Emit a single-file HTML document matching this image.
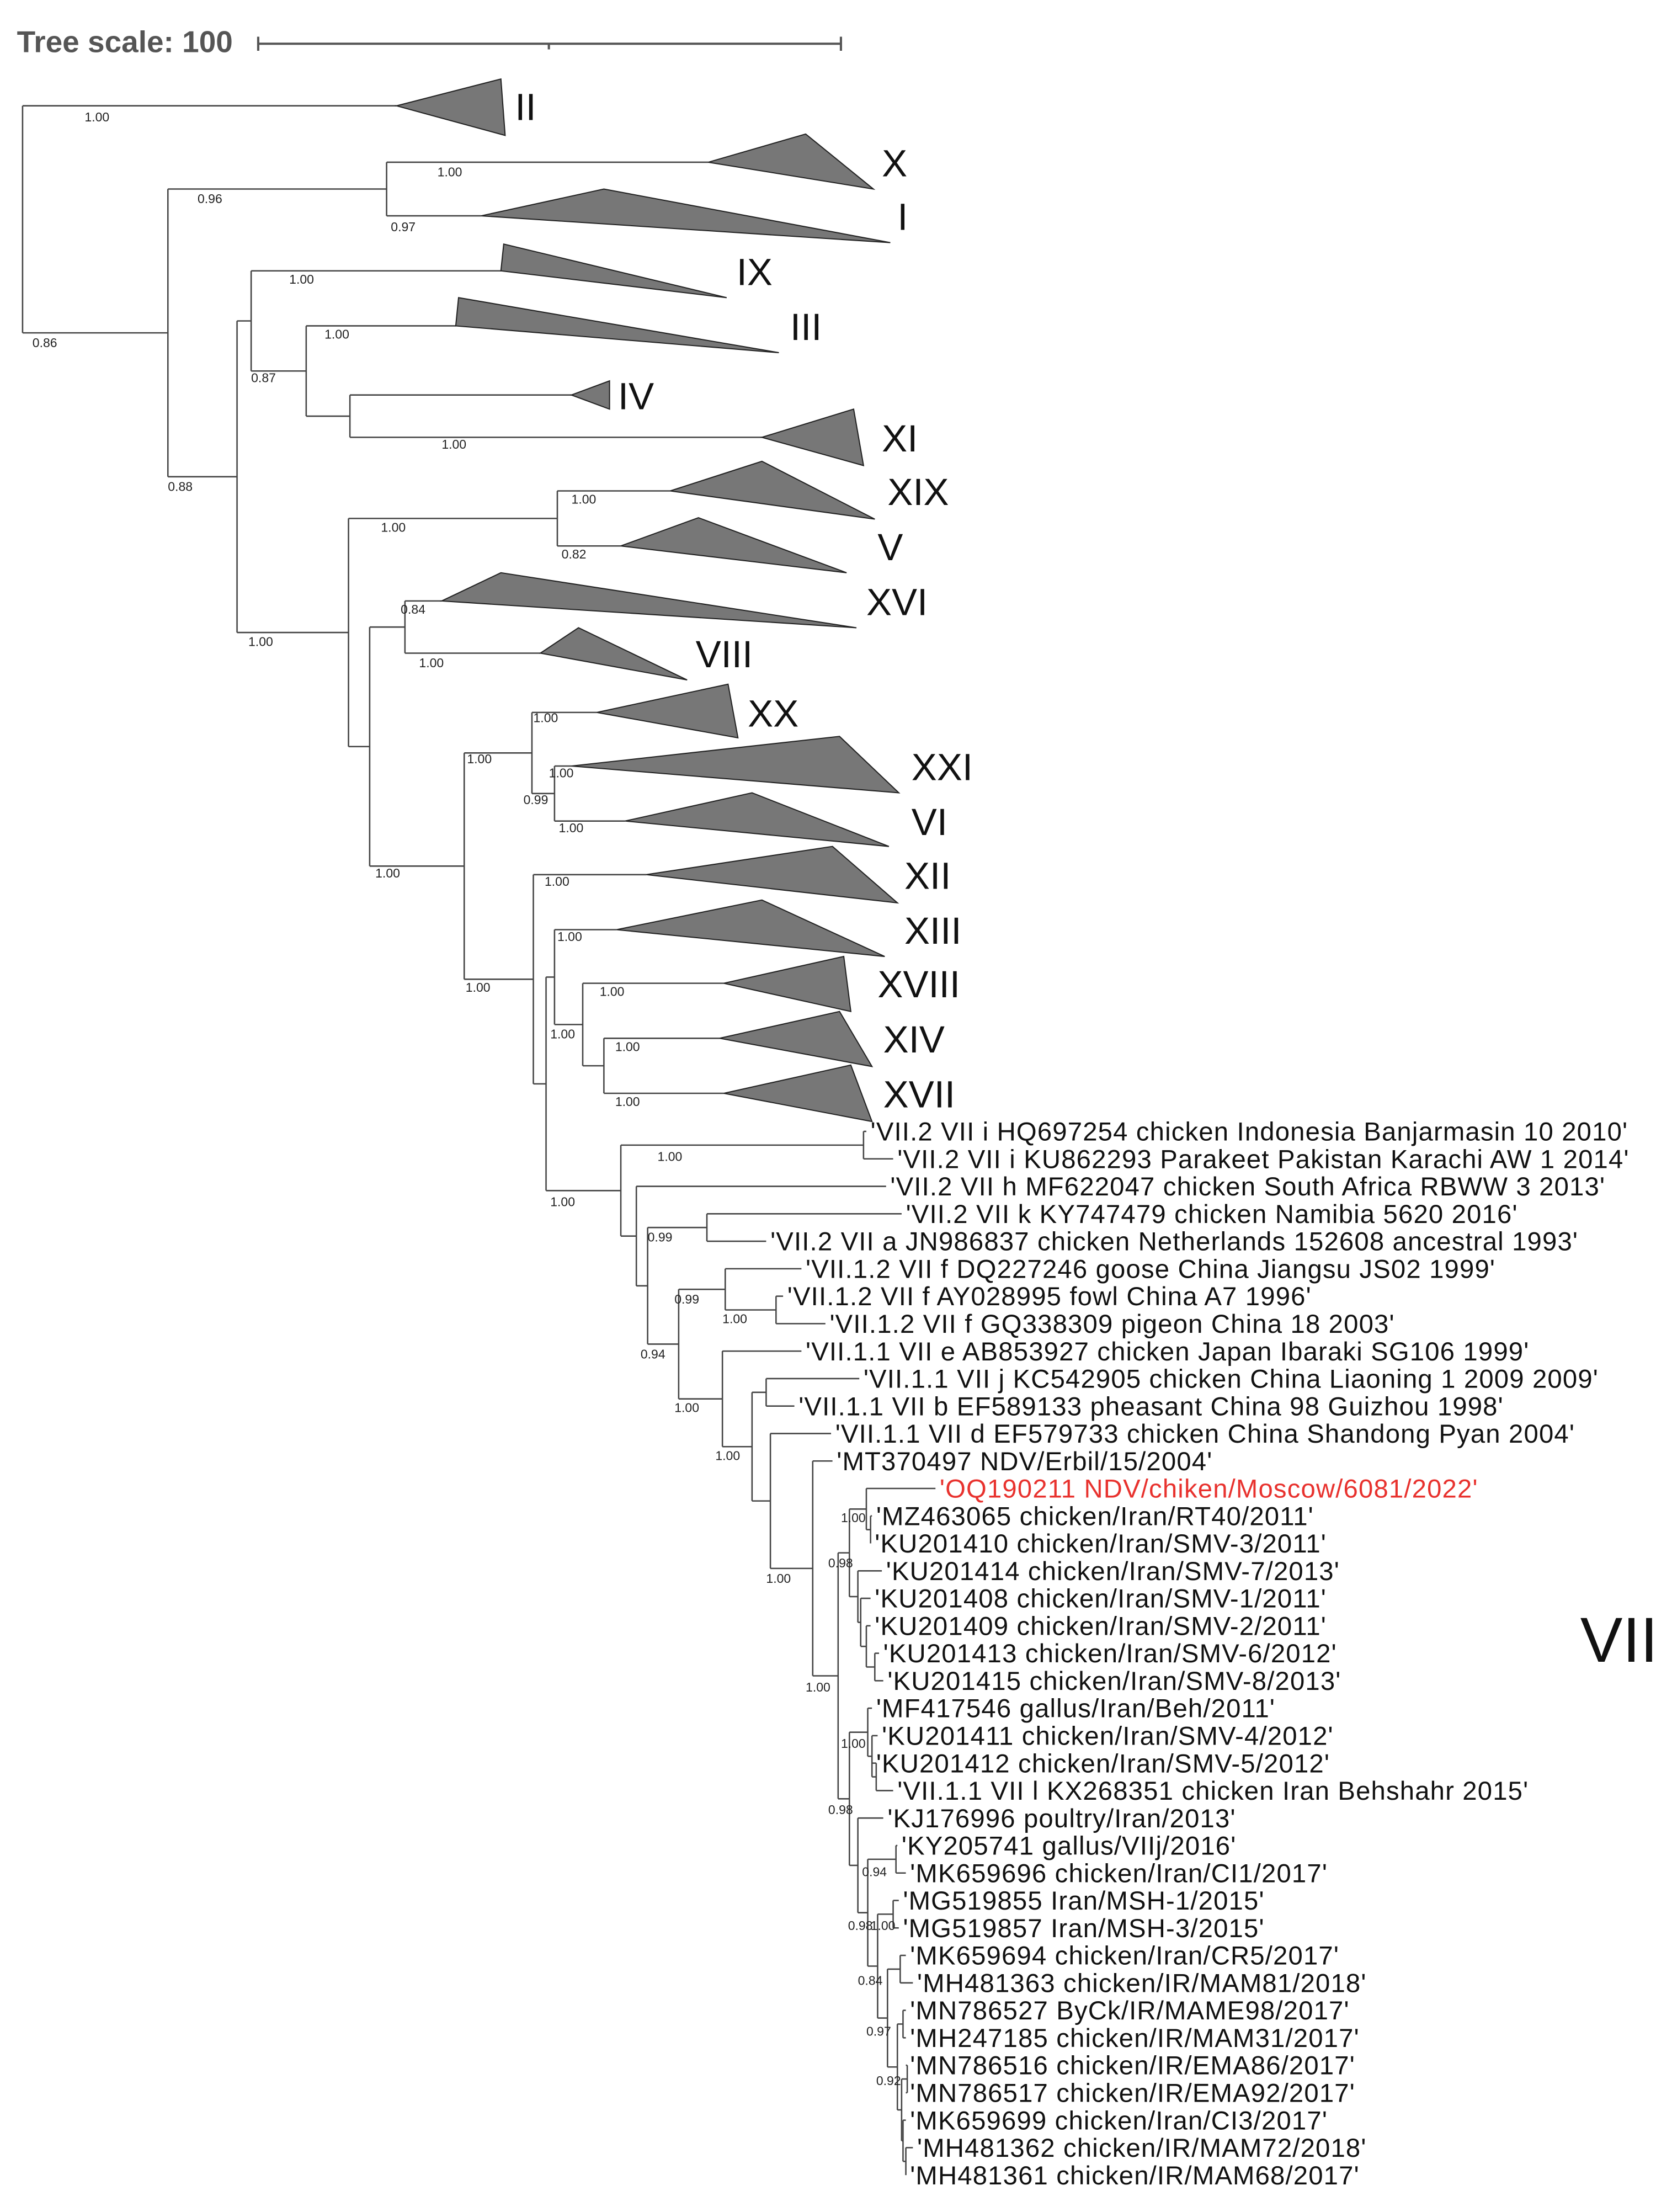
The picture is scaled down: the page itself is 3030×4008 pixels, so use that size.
<!DOCTYPE html>
<html><head><meta charset="utf-8"><style>
html,body{margin:0;padding:0;background:#fff}
svg{display:block}
</style></head><body>
<svg id="tree" xmlns="http://www.w3.org/2000/svg" width="3030" height="4008" viewBox="0 0 1185 1568" preserveAspectRatio="none" font-family="'Liberation Sans', sans-serif">
<g>
<text x="12" y="37" font-size="21.5" font-weight="bold" fill="#555">Tree scale: 100</text>
<path d="M183,31H596M183,26V36M596,26V36M389,31V35" stroke="#555" stroke-width="1.6" fill="none"/>
</g>
<g id="edges"></g>
<g id="clades"></g>
<g id="supports"></g>
<g id="leaves"></g>
<text x="1120" y="1178" font-size="45" fill="#111">VII</text>
</svg>
<script>
const leafNames = ["'VII.2 VII i HQ697254 chicken Indonesia Banjarmasin 10 2010'","'VII.2 VII i KU862293 Parakeet Pakistan Karachi AW 1 2014'","'VII.2 VII h MF622047 chicken South Africa RBWW 3 2013'","'VII.2 VII k KY747479 chicken Namibia 5620 2016'","'VII.2 VII a JN986837 chicken Netherlands 152608 ancestral 1993'","'VII.1.2 VII f DQ227246 goose China Jiangsu JS02 1999'","'VII.1.2 VII f AY028995 fowl China A7 1996'","'VII.1.2 VII f GQ338309 pigeon China 18 2003'","'VII.1.1 VII e AB853927 chicken Japan Ibaraki SG106 1999'","'VII.1.1 VII j KC542905 chicken China Liaoning 1 2009 2009'","'VII.1.1 VII b EF589133 pheasant China 98 Guizhou 1998'","'VII.1.1 VII d EF579733 chicken China Shandong Pyan 2004'","'MT370497 NDV/Erbil/15/2004'","'OQ190211 NDV/chiken/Moscow/6081/2022'","'MZ463065 chicken/Iran/RT40/2011'","'KU201410 chicken/Iran/SMV-3/2011'","'KU201414 chicken/Iran/SMV-7/2013'","'KU201408 chicken/Iran/SMV-1/2011'","'KU201409 chicken/Iran/SMV-2/2011'","'KU201413 chicken/Iran/SMV-6/2012'","'KU201415 chicken/Iran/SMV-8/2013'","'MF417546 gallus/Iran/Beh/2011'","'KU201411 chicken/Iran/SMV-4/2012'","'KU201412 chicken/Iran/SMV-5/2012'","'VII.1.1 VII l KX268351 chicken Iran Behshahr 2015'","'KJ176996 poultry/Iran/2013'","'KY205741 gallus/VIIj/2016'","'MK659696 chicken/Iran/CI1/2017'","'MG519855 Iran/MSH-1/2015'","'MG519857 Iran/MSH-3/2015'","'MK659694 chicken/Iran/CR5/2017'","'MH481363 chicken/IR/MAM81/2018'","'MN786527 ByCk/IR/MAME98/2017'","'MH247185 chicken/IR/MAM31/2017'","'MN786516 chicken/IR/EMA86/2017'","'MN786517 chicken/IR/EMA92/2017'","'MK659699 chicken/Iran/CI3/2017'","'MH481362 chicken/IR/MAM72/2018'","'MH481361 chicken/IR/MAM68/2017'"];
const leafTips = [614,633,628,639,543,568,555,585,568,609,563,589,590,663,618,617,625,617,617,623,626,618,622,618,633,626,636,642,637,637,642,647,642,642,642,642,642,647,642];
const cladeNames = ["II","X","I","IX","III","IV","XI","XIX","V","XVI","VIII","XX","XXI","VI","XII","XIII","XVIII","XIV","XVII"];
const cladeStart = [281,502,341,355,323,405,540,475,440,313,383,423,405,443,458,437,513,510,513];
const cladeRow = [75,115,153,192,231,280,310,348,387,426,463,505,543,582,620,659,697,736,775];
const cladeTop = [[355,56],[571,95],[428,134],[357,173],[325,211],[432,270],[605,290],[540,327],[495,367],[355,406],[410,445],[516,485],[595,522],[533,562],[590,600],[540,638],[598,678],[595,717],[603,755]];
const cladeBot = [[358,96],[619,134],[631,172],[515,211],[552,250],[432,290],[612,330],[620,368],[600,406],[607,445],[487,482],[523,523],[637,562],[630,600],[636,640],[627,678],[603,717],[618,756],[618,795]];
const cladeLabelX = [365,625,636,522,560,438,625,629,622,614,493,530,646,646,641,641,622,626,626];
const cladeSupport = [["1.00",60,83],["1.00",310,122],["0.97",277,161],["1.00",205,198],["1.00",230,237],null,["1.00",313,315],["1.00",405,354],["0.82",398,393],["0.84",284,432],["1.00",297,470],["1.00",378,509],["1.00",389,548],["1.00",396,587],["1.00",386,625],["1.00",395,664],["1.00",425,703],["1.00",436,742],["1.00",436,781]];
const ROW0 = 802, ROWH = 19.47;
const NS = "http://www.w3.org/2000/svg";
function L(i){return {leaf:i};}
function C(i){return {clade:i};}
function N(x,s,ch){return {x:x,sup:s,ch:ch};}
function S(t,x,y){return [t,x,y];}
function CN(n){return cladeNames.indexOf(n);}
const tree = N(16,null,[C(CN("II")), N(119,S("0.86",23,243),[
  N(274,S("0.96",140,141),[C(CN("X")),C(CN("I"))]),
  N(168,S("0.88",119,345),[
    N(178,null,[C(CN("IX")), N(217,S("0.87",178,268),[C(CN("III")), N(248,null,[C(CN("IV")),C(CN("XI"))])])]),
    N(247,S("1.00",176,455),[
      N(395,S("1.00",270,374),[C(CN("XIX")),C(CN("V"))]),
      N(262,null,[
        N(287,null,[C(CN("XVI")),C(CN("VIII"))]),
        N(329,S("1.00",266,619),[
          N(377,S("1.00",331,538),[C(CN("XX")), N(393,S("0.99",371,567),[C(CN("XXI")),C(CN("VI"))])]),
          N(378,S("1.00",330,700),[C(CN("XII")), N(387,null,[
            N(393,null,[C(CN("XIII")), N(413,S("1.00",390,733),[C(CN("XVIII")), N(428,null,[C(CN("XIV")),C(CN("XVII"))])])]),
            N(440,S("1.00",390,852),[
              N(612,S("1.00",466,820),[L(0),L(1)]),
              N(451,null,[L(2), N(459,null,[
                N(501,S("0.99",459,877),[L(3),L(4)]),
                N(481,S("0.94",454,960),[
                  N(514,S("0.99",478,921),[L(5), N(550,S("1.00",512,935),[L(6),L(7)])]),
                  N(512,S("1.00",478,998),[L(8), N(533,S("1.00",507,1032),[
                    N(543,null,[L(9),L(10)]),
                    N(546,null,[L(11), N(576,S("1.00",543,1119),[L(12), N(594,S("1.00",571,1196),[
                      N(602,S("0.98",587,1108),[
                        N(614,S("1.00",596,1076),[L(13), N(617,null,[L(14),L(15)])]),
                        N(608,null,[L(16), N(610,null,[L(17), N(614,null,[L(18), N(620,null,[L(19),L(20)])])])])
                      ]),
                      N(602,S("0.98",587,1283),[
                        N(615,S("1.00",596,1236),[L(21), N(618,null,[L(22), N(621,null,[L(23),L(24)])])]),
                        N(608,null,[L(25), N(615,S("0.98",601,1365),[
                          N(635,S("0.94",611,1327),[L(26),L(27)]),
                          N(622,S("0.84",608,1404),[
                            N(633,S("1.00",617,1365),[L(28),L(29)]),
                            N(629,S("0.97",614,1440),[
                              N(638,null,[L(30),L(31)]),
                              N(636,S("0.92",621,1475),[
                                N(640,null,[L(32),L(33)]),
                                N(639,null,[N(643,null,[L(34),L(35)]), N(640,null,[L(36), N(642,null,[L(37),L(38)])])])
                              ])
                            ])
                          ])
                        ])])
                      ])
                    ])])])
                  ])])
                ])
              ])])
            ])
          ])])
        ])
      ])
    ])
  ])
])]);

const gE=document.getElementById('edges'),gC=document.getElementById('clades'),gS=document.getElementById('supports'),gL=document.getElementById('leaves');
function mk(tag,attrs,parent){const e=document.createElementNS(NS,tag);for(const k in attrs)e.setAttribute(k,attrs[k]);parent.appendChild(e);return e;}
function line(x1,y1,x2,y2){
  const e=mk('line',{x1:x1,y1:y1,x2:x2,y2:y2,stroke:'#444','stroke-width':1},gE);
  
  
}
function support(s){
  if(!s)return;
  const t=mk('text',{x:s[1],y:s[2]+3,'font-size':9,fill:'#222'},gS);
  t.textContent=s[0];
  
  
}
function layout(n){
  if(n.leaf!==undefined){n.y=ROW0+n.leaf*ROWH;n.x=leafTips[n.leaf];return;}
  if(n.clade!==undefined){n.y=cladeRow[n.clade];n.x=cladeStart[n.clade];return;}
  n.ch.forEach(layout);
  n.y=(n.ch[0].y+n.ch[n.ch.length-1].y)/2;
}
function draw(n,px){
  if(px!==undefined)line(px,n.y,n.x,n.y);
  if(n.leaf!==undefined){
    const i=n.leaf;
    const t=mk('text',{x:n.x+3,y:n.y+6.5,'font-size':18.5,'letter-spacing':0.45,fill:i===13?'#e8322e':'#111'},gL);
    t.textContent=leafNames[i];
    
    
    return;
  }
  if(n.clade!==undefined){
    const i=n.clade;
    const p=mk('polygon',{points:[cladeStart[i],cladeRow[i],cladeTop[i][0],cladeTop[i][1],cladeBot[i][0],cladeBot[i][1]].join(' '),fill:'#777',stroke:'#222','stroke-width':0.8},gC);
    
    
    const t=mk('text',{x:cladeLabelX[i],y:cladeRow[i]+10,'font-size':27,fill:'#111'},gC);
    t.textContent=cladeNames[i];
    
    
    support(cladeSupport[i]);
    return;
  }
  support(n.sup);
  line(n.x,n.ch[0].y,n.x,n.ch[n.ch.length-1].y);
  n.ch.forEach(c=>draw(c,n.x));
}
layout(tree);
draw(tree);
</script>
</body></html>
